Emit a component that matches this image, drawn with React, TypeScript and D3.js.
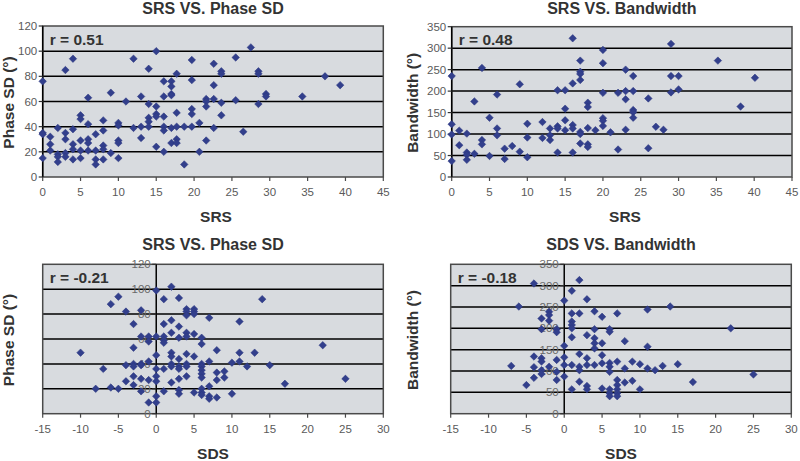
import React from "react";
import * as d3 from "d3";

// ---------- tick values ----------
const srsTicks = [0, 5, 10, 15, 20, 25, 30, 35, 40, 45];
const sdsTicks = [-15, -10, -5, 0, 5, 10, 15, 20, 25, 30];
const phaseTicks = [0, 20, 40, 60, 80, 100, 120];
const bwTicks = [0, 50, 100, 150, 200, 250, 300, 350];

// ---------- data: [x, y] ----------
const srsPhase: [number, number][] = [
  [0, 76], [0, 35], [0, 34], [0, 15],
  [1, 32], [1, 26], [1, 21],
  [2, 39], [2, 18], [2, 16], [2, 12],
  [3, 85], [3, 35], [3, 30], [3, 19], [3, 16],
  [4, 94], [4, 38], [4, 26], [4, 22], [4, 14],
  [5, 49], [5, 46], [5, 29], [5, 21], [5, 15],
  [6, 63], [6, 42], [6, 30], [6, 27], [6, 21],
  [7, 34], [7, 21], [7, 14], [7, 10],
  [8, 45], [8, 37], [8, 25], [8, 22], [8, 14],
  [9, 67], [9, 19],
  [10, 43], [10, 41], [10, 29], [10, 27], [10, 15],
  [11, 60],
  [12, 94], [12, 39],
  [13, 64], [13, 40], [13, 31],
  [14, 86], [14, 58], [14, 47], [14, 44], [14, 40],
  [15, 100], [15, 56], [15, 50], [15, 48], [15, 24],
  [16, 76], [16, 64], [16, 48], [16, 40], [16, 37], [16, 20],
  [17, 76], [17, 72], [17, 66], [17, 65], [17, 39], [17, 27],
  [17.7, 82], [17.7, 51], [17.7, 40], [17.7, 30], [17.7, 27],
  [18.7, 40], [18.7, 10],
  [19.7, 93], [19.7, 77], [19.7, 54], [19.7, 50], [19.7, 40],
  [20.7, 43], [20.7, 20],
  [21.6, 62], [21.6, 60], [21.6, 56], [21.6, 29],
  [22.6, 90], [22.6, 73], [22.6, 62], [22.6, 39],
  [23.6, 84], [23.6, 82], [23.6, 59], [23.6, 49],
  [25.5, 95], [25.5, 61],
  [26.5, 36],
  [27.5, 103],
  [28.5, 84], [28.5, 82], [28.5, 58],
  [29.5, 66], [29.5, 64],
  [34.3, 64],
  [37.3, 80],
  [39.3, 73],
];

const srsBandwidth: [number, number][] = [
  [0, 235], [0, 123], [0, 99], [0, 37],
  [1, 108], [1, 74],
  [2, 101], [2, 57], [2, 52], [2, 40],
  [3, 176], [3, 54],
  [4, 254], [4, 86], [4, 76],
  [5, 138], [5, 49],
  [6, 192], [6, 113], [6, 97],
  [7, 66], [7, 42],
  [8, 72],
  [9, 216], [9, 59],
  [10, 124], [10, 92], [10, 46],
  [12, 128], [12, 91],
  [13, 113], [13, 97], [13, 86],
  [14, 202], [14, 118], [14, 113], [14, 57],
  [15, 202], [15, 159], [15, 132], [15, 109],
  [16, 323], [16, 218], [16, 121], [16, 113], [16, 57],
  [17, 271], [17, 245], [17, 240], [17, 226], [17, 105], [17, 100], [17, 78],
  [18, 173], [18, 163], [18, 114], [18, 76], [18, 70],
  [19, 109],
  [20, 296], [20, 265], [20, 196], [20, 137], [20, 131], [20, 119],
  [21, 104],
  [22, 196], [22, 64],
  [23, 250], [23, 200], [23, 181], [23, 110],
  [24, 235], [24, 200], [24, 156], [24, 151], [24, 138],
  [26, 183], [26, 67],
  [27, 117],
  [28, 110],
  [29, 310], [29, 235], [29, 197],
  [30, 235], [30, 204],
  [35.2, 271],
  [38.2, 164],
  [40.1, 231],
];

const sdsPhase: [number, number][] = [
  [-10, 49], [-8, 20], [-7, 36], [-6, 88], [-6, 21], [-5, 94], [-5, 20],
  [-4, 82], [-4, 39], [-4, 26],
  [-3, 72], [-3, 53], [-3, 40], [-3, 38], [-3, 30], [-3, 23],
  [-2, 83], [-2, 62], [-2, 40], [-2, 39], [-2, 28], [-2, 18],
  [-1, 62], [-1, 58], [-1, 42], [-1, 27], [-1, 9],
  [0, 99], [0, 62], [0, 47], [0, 36], [0, 30], [0, 26], [0, 14], [0, 9],
  [1, 92], [1, 72], [1, 62], [1, 59], [1, 57], [1, 36], [1, 18],
  [2, 102], [2, 75], [2, 65], [2, 49], [2, 46], [2, 40], [2, 38], [2, 25],
  [3, 93], [3, 70], [3, 61], [3, 44], [3, 38], [3, 36], [3, 28], [3, 19], [3, 16],
  [4, 84], [4, 82], [4, 79], [4, 65], [4, 62], [4, 48], [4, 40], [4, 38], [4, 30],
  [5, 84], [5, 82], [5, 80], [5, 64], [5, 46], [5, 17],
  [6, 61], [6, 56], [6, 40], [6, 38], [6, 35], [6, 32], [6, 29], [6, 20], [6, 17], [6, 15],
  [7, 77], [7, 42], [7, 22], [7, 14], [7, 12],
  [8, 51], [8, 33], [8, 27], [8, 13],
  [9, 34], [9, 29],
  [10, 41], [10, 16],
  [11, 74], [11, 49], [11, 42],
  [12, 38],
  [13, 49],
  [14, 92],
  [15, 39],
  [17, 24],
  [22, 55],
  [25, 28],
];

const sdsBandwidth: [number, number][] = [
  [-7, 112], [-6, 251], [-5, 67],
  [-4, 305], [-4, 134], [-4, 109], [-4, 84],
  [-3, 223], [-3, 198], [-3, 130], [-3, 122], [-3, 102], [-3, 93],
  [-2, 239], [-2, 231], [-2, 218], [-2, 110],
  [-1, 198], [-1, 191], [-1, 126], [-1, 98], [-1, 79],
  [0, 265], [0, 159], [0, 132], [0, 114], [0, 87],
  [1, 288], [1, 235], [1, 216], [1, 208], [1, 200], [1, 179], [1, 114], [1, 57],
  [2, 313], [2, 235], [2, 140], [2, 110], [2, 102], [2, 75],
  [3, 268], [3, 184], [3, 130], [3, 114], [3, 65], [3, 57],
  [4, 240], [4, 198], [4, 177], [4, 165], [4, 153], [4, 114],
  [5, 227], [5, 165], [5, 137], [5, 118], [5, 59],
  [6, 198], [6, 192], [6, 119], [6, 110], [6, 98], [6, 57], [6, 48], [6, 41],
  [7, 235], [7, 122], [7, 79], [7, 67], [7, 57], [7, 48], [7, 41],
  [8, 170], [8, 106], [8, 73],
  [9, 122], [9, 77],
  [10, 116], [10, 57],
  [11, 244], [11, 157], [11, 106],
  [12, 102],
  [13, 112],
  [14, 251],
  [15, 116],
  [17, 74],
  [22, 200],
  [25, 92],
];

const FONT = "'Liberation Sans', Arial, Helvetica, sans-serif";
const markerPath = d3.symbol().type(d3.symbolSquare).size(28)() as string;

type PanelProps = {
  left: number; right: number; top: number; bottom: number;
  xTicks: number[]; yTicks: number[];
  data: [number, number][];
  title: string; xLabel: string; yLabel: string; rText: string;
  yAxisAtZero: boolean;
  xLabelX: number; xLabelY: number; yLabelX: number; titleY: number;
};

function Panel(p: PanelProps) {
  const x = d3.scaleLinear().domain(d3.extent(p.xTicks) as [number, number]).range([p.left, p.right]);
  const y = d3.scaleLinear().domain(d3.extent(p.yTicks) as [number, number]).range([p.bottom, p.top]);
  const axisX = p.yAxisAtZero ? x(0) : p.left;
  const cx = (p.left + p.right) / 2;
  const cy = (p.top + p.bottom) / 2;
  const yMax = d3.max(p.yTicks) as number;
  const yMin = d3.min(p.yTicks) as number;
  return (
    <g>
      <rect x={p.left} y={p.top} width={p.right - p.left} height={p.bottom - p.top} fill="#D8DBDF" />
      {p.yTicks.filter((t) => t !== yMax && t !== yMin).map((t) => (
        <line key={"g" + t} x1={p.left} x2={p.right} y1={y(t)} y2={y(t)} stroke="#000" strokeWidth={1.5} />
      ))}
      <rect x={p.left} y={p.top} width={p.right - p.left} height={p.bottom - p.top} fill="none" stroke="#4a4a4a" strokeWidth={1.5} />
      {/* x ticks */}
      {p.xTicks.map((t) => (
        <g key={"x" + t}>
          <line x1={x(t)} x2={x(t)} y1={p.bottom} y2={p.bottom + 4} stroke="#4a4a4a" strokeWidth={1.2} />
          <text x={x(t)} y={p.bottom + 19} textAnchor="middle" fontSize={11.5} fill="#5a5a5a" fontFamily={FONT}>{t}</text>
        </g>
      ))}
      {/* y axis */}
      <line x1={axisX} x2={axisX} y1={p.top} y2={p.bottom} stroke="#000" strokeWidth={1.5} />
      {p.yTicks.map((t) => (
        <g key={"y" + t}>
          <line x1={axisX - 4} x2={axisX} y1={y(t)} y2={y(t)} stroke="#333" strokeWidth={1.2} />
          <text x={axisX - 5.5} y={y(t)} dy="0.36em" textAnchor="end" fontSize={11.5} fill={p.yAxisAtZero ? "#6a6a6a" : "#5a5a5a"} fontFamily={FONT}>{t}</text>
        </g>
      ))}
      {/* points */}
      {p.data.map((d, i) => (
        <path key={"p" + i} d={markerPath} transform={`translate(${x(d[0])},${y(d[1])}) rotate(45)`} fill="#323F8C" stroke="#2a3580" strokeWidth={0.5} />
      ))}
      <text x={p.left + 7} y={p.top + 18.5} fontSize={15.5} fontWeight="bold" fill="#333" fontFamily={FONT}>{p.rText}</text>
      <text x={cx} y={p.titleY} textAnchor="middle" fontSize={16} fontWeight="bold" fill="#333" fontFamily={FONT}>{p.title}</text>
      <text x={p.xLabelX} y={p.xLabelY} textAnchor="middle" fontSize={15.5} fontWeight="bold" fill="#333" fontFamily={FONT}>{p.xLabel}</text>
      <text transform={`translate(${p.yLabelX},${cy + 1}) rotate(-90)`} textAnchor="middle" fontSize={15.5} fontWeight="bold" fill="#333" fontFamily={FONT}>{p.yLabel}</text>
    </g>
  );
}

export default function App() {
  return (
    <svg width={800} height={461} style={{ position: "absolute", left: 0, top: 0, background: "#fff" }}>
      <rect x={0} y={0} width={800} height={461} fill="#fff" />
      <Panel left={42.7} right={383.3} top={26} bottom={177} xTicks={srsTicks} yTicks={phaseTicks}
        data={srsPhase} title="SRS VS. Phase SD" xLabel="SRS" yLabel="Phase SD (°)" rText="r = 0.51"
        yAxisAtZero={false} xLabelX={216} xLabelY={222} yLabelX={14} titleY={14} />
      <Panel left={451.7} right={792} top={26.7} bottom={177} xTicks={srsTicks} yTicks={bwTicks}
        data={srsBandwidth} title="SRS VS. Bandwidth" xLabel="SRS" yLabel="Bandwidth (°)" rText="r = 0.48"
        yAxisAtZero={false} xLabelX={625} xLabelY={222} yLabelX={418} titleY={14} />
      <Panel left={42.7} right={383.3} top={264.3} bottom={413.7} xTicks={sdsTicks} yTicks={phaseTicks}
        data={sdsPhase} title="SRS VS. Phase SD" xLabel="SDS" yLabel="Phase SD (°)" rText="r = -0.21"
        yAxisAtZero={true} xLabelX={213} xLabelY={459} yLabelX={14} titleY={250} />
      <Panel left={450.7} right={791.3} top={264.3} bottom={413.7} xTicks={sdsTicks} yTicks={bwTicks}
        data={sdsBandwidth} title="SDS VS. Bandwidth" xLabel="SDS" yLabel="Bandwidth (°)" rText="r = -0.18"
        yAxisAtZero={true} xLabelX={621} xLabelY={459} yLabelX={418} titleY={250} />
    </svg>
  );
}
